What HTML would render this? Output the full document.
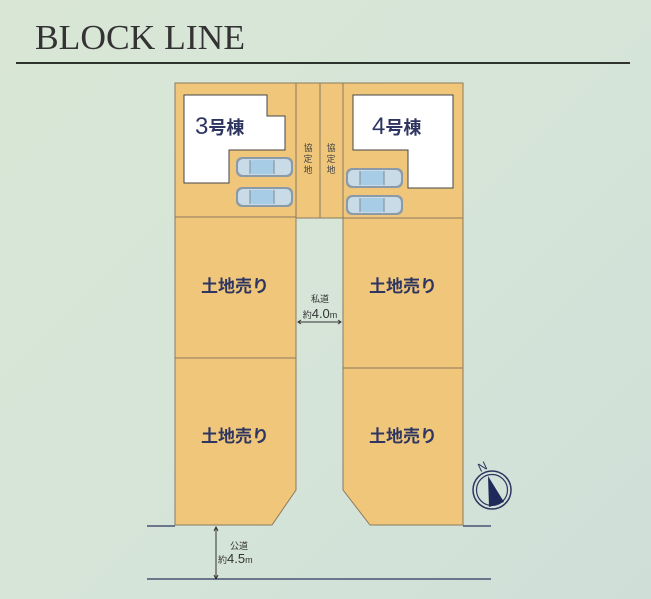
<!DOCTYPE html>
<html><head><meta charset="utf-8"><style>
body{margin:0;width:651px;height:599px;overflow:hidden;background:linear-gradient(135deg,#d9e6d6 0%,#d6e5d8 50%,#cfdfd8 100%);font-family:"Liberation Sans","Noto Sans CJK JP",sans-serif}
</style></head><body>
<svg width="651" height="599" xmlns="http://www.w3.org/2000/svg" style="position:absolute;left:0;top:0">
<defs>
<g id="car">
<rect x="0" y="0" width="57" height="20" rx="6" fill="#8a9aa8"/>
<rect x="2" y="2" width="53" height="16" rx="5" fill="#c9dbe6"/>
<rect x="14" y="3" width="24" height="14" rx="3" fill="#a7cde6"/>
<line x1="14" y1="3" x2="14" y2="17" stroke="#7a8a96"/>
<line x1="38" y1="3" x2="38" y2="17" stroke="#7a8a96"/>
</g>
</defs>
<text x="35" y="49" font-family="Liberation Serif,serif" font-size="35" fill="#333" textLength="210" lengthAdjust="spacingAndGlyphs">BLOCK LINE</text>
<rect x="16" y="62" width="614" height="2" fill="#2e332e"/>
<g fill="#f0c77a" stroke="#8a7a5e" stroke-width="1">
<rect x="175" y="83" width="288" height="135"/>
<rect x="175" y="217" width="121" height="141"/>
<polygon points="175,358 296,358 296,490 272,525 175,525"/>
<rect x="343" y="218" width="120" height="150"/>
<polygon points="343,368 463,368 463,525 370,525 343,490"/>
</g>
<line x1="296" y1="83" x2="296" y2="218" stroke="#8a7a5e"/>
<line x1="320" y1="83" x2="320" y2="218" stroke="#8a7a5e"/>
<line x1="343" y1="83" x2="343" y2="218" stroke="#8a7a5e"/>
<polygon points="184,95 267,95 267,116 285,116 285,150 229,150 229,183 184,183" fill="#fff" stroke="#444" stroke-width="1"/>
<polygon points="353,95 453,95 453,188 408,188 408,150 353,150" fill="#fff" stroke="#444" stroke-width="1"/>
<text x="195" y="134" font-size="24" fill="#2e3560">3<tspan font-size="18" font-weight="bold">号棟</tspan></text>
<text x="372" y="134" font-size="24" fill="#2e3560">4<tspan font-size="18" font-weight="bold">号棟</tspan></text>
<use href="#car" x="236" y="157"/><use href="#car" x="236" y="187"/>
<use href="#car" x="346" y="168"/><use href="#car" x="346" y="195"/>
<g font-size="9" fill="#444" text-anchor="middle">
<text x="308" y="151">協</text><text x="308" y="162">定</text><text x="308" y="173">地</text>
<text x="331" y="151">協</text><text x="331" y="162">定</text><text x="331" y="173">地</text>
</g>
<g font-size="17" fill="#2e3560" font-weight="bold" text-anchor="middle">
<text x="235" y="292">土地売り</text><text x="235" y="442">土地売り</text>
<text x="403" y="292">土地売り</text><text x="403" y="442">土地売り</text>
</g>
<text x="320" y="302" font-size="9" fill="#333" text-anchor="middle">私道</text>
<text x="320" y="318" font-size="9" fill="#333" text-anchor="middle">約<tspan font-size="13">4.0</tspan>m</text>
<line x1="298" y1="322" x2="341" y2="322" stroke="#333"/>
<path d="M301,320 L298,322 L301,324 M338,320 L341,322 L338,324" stroke="#333" fill="none"/>
<line x1="147" y1="526" x2="175" y2="526" stroke="#2e3560" stroke-width="1.2"/>
<line x1="463" y1="526" x2="491" y2="526" stroke="#2e3560" stroke-width="1.2"/>
<line x1="147" y1="579" x2="491" y2="579" stroke="#2e3560" stroke-width="1.2"/>
<line x1="216" y1="528" x2="216" y2="578" stroke="#333"/>
<path d="M214,531 L216,527 L218,531 M214,575 L216,579 L218,575" stroke="#333" fill="none"/>
<text x="239" y="549" font-size="9" fill="#333" text-anchor="middle">公道</text>
<text x="218" y="563" font-size="9" fill="#333">約<tspan font-size="13">4.5</tspan>m</text>
<circle cx="492" cy="490" r="19" fill="none" stroke="#2e3560" stroke-width="1.5"/>
<circle cx="492" cy="490" r="15.5" fill="none" stroke="#2e3560" stroke-width="1.2"/>
<polygon points="488,476 504,502 489,507" fill="#1e2a5a"/>
<text x="478" y="470" font-size="12" fill="#2e3560" transform="rotate(-25 484 466)">N</text>
</svg>
</body></html>
